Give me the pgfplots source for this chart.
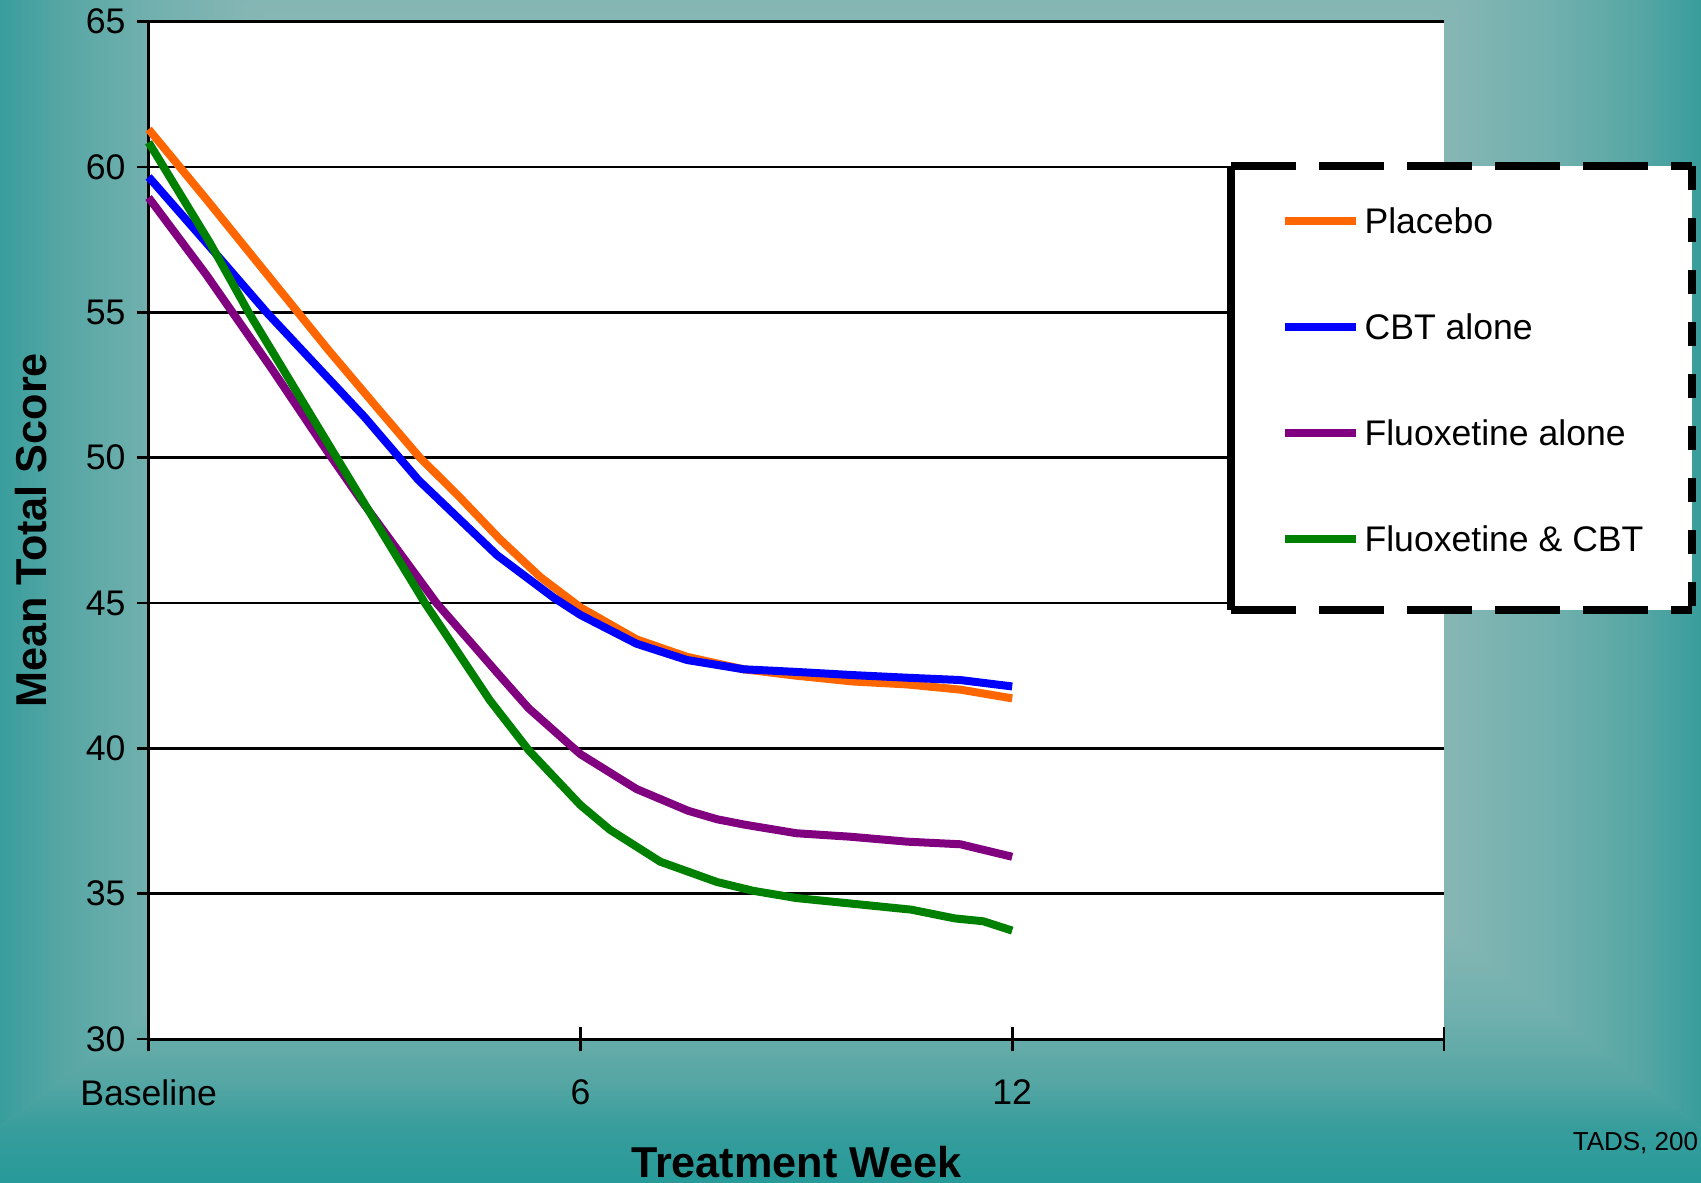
\documentclass[border=0pt]{standalone}
\usepackage{fontspec}
\setmainfont{Liberation Sans}
\usepackage{pgfplots}
\pgfplotsset{compat=1.18}
\definecolor{g0}{HTML}{A3C8C6}
\definecolor{g1}{HTML}{8CB8B6}
\definecolor{g2}{HTML}{70B0AE}
\definecolor{g3}{HTML}{55A6A4}
\definecolor{g4}{HTML}{369D9C}
\definecolor{g5}{HTML}{1E9898}
\definecolor{cPlacebo}{HTML}{FF6600}
\definecolor{cCBT}{HTML}{0000FF}
\definecolor{cFlu}{HTML}{800080}
\definecolor{cBoth}{HTML}{008000}
\pgfdeclarehorizontalshading{rg}{100bp}{color(0bp)=(g5); color(29.17bp)=(g5); color(34.58bp)=(g4); color(37.5bp)=(g3); color(41.67bp)=(g2); color(48.33bp)=(g1); color(75bp)=(g0); color(100bp)=(g0)}

\begin{document}
\begin{tikzpicture}[x=0.25pt,y=0.25pt]
\useasboundingbox (0,0) rectangle (1701,1182);
\clip (0,0) rectangle (1701,1182);
\fill[g2] (0,0) rectangle (1701,1182);
% rectangular ("from centre") background gradient
\shade[shading=rg, shading angle=0]   (850,712) -- (-206,1528) -- (-206,-104) -- cycle;
\shade[shading=rg, shading angle=180] (850,712) -- (1906,1528) -- (1906,-104) -- cycle;
\shade[shading=rg, shading angle=270] (850,712) -- (-206,1528) -- (1906,1528) -- cycle;
\shade[shading=rg, shading angle=90]  (850,712) -- (-206,-104) -- (1906,-104) -- cycle;
\begin{axis}[
  at={(37.15pt,35.75pt)}, anchor=south west,
  scale only axis, width=323.85pt, height=254.325pt,
  xmin=0, xmax=18, ymin=30, ymax=65,
  axis x line=bottom, axis y line=left,
  axis line style={-, black, line width=0.75pt},
  axis background/.style={fill=white},
  xtick={0,6,12,18}, xticklabels={Baseline,6,12,{}},
  ytick={30,35,...,65},
  ymajorgrids, grid style={black, line width=0.65pt},
  tick align=center, major tick length=6pt,
  tick style={black, line width=0.65pt},
  /pgf/number format/assume math mode=true,
  tick label style={font=\fontsize{8.9}{10}\selectfont},
  xticklabel style={yshift=-3.65pt},
  yticklabel style={xshift=0.75pt},
  xlabel={Treatment Week},
  ylabel={Mean Total Score},
  label style={font=\fontsize{10.8}{12}\selectfont\bfseries},
  xlabel style={at={(axis description cs:0.5,-0.1366)}, anchor=base},
  ylabel style={at={(axis description cs:-0.0788,0.5)}, anchor=base},
  clip=false,
  legend cell align=left,
  legend style={draw=none, fill=none, at={(rel axis cs:0.8735,0.8177)}, anchor=north west,
    inner sep=0pt, row sep=20.1pt, column sep=1.1pt,
    font=\fontsize{8.9}{10}\selectfont,
    nodes={inner sep=0pt, text height=6.4pt, text depth=0pt, anchor=base west}},
  legend image code/.code={\draw[#1] (0pt,3.2pt) -- (17.8pt,3.2pt);},
  every axis plot/.append style={line width=2pt, line join=round},
]
\fill[white] (rel axis cs:0.8356,0.8582) rectangle (rel axis cs:1.1914,0.4217);
\draw[black, line width=2.2pt] (rel axis cs:0.8356,0.8582) -- (rel axis cs:0.8356,0.4217);
\draw[black, line width=2.2pt, dash pattern=on 16.25pt off 5.75pt] (rel axis cs:0.8356,0.8582) -- (rel axis cs:1.1914,0.8582);
\draw[black, line width=2.2pt, dash pattern=on 16.25pt off 5.75pt] (rel axis cs:0.8356,0.4217) -- (rel axis cs:1.1914,0.4217);
\draw[black, line width=2.2pt, dash pattern=on 6pt off 7pt] (rel axis cs:1.1914,0.8582) -- (rel axis cs:1.1914,0.4217);
\addplot[cPlacebo] coordinates {(0,61.3) (0.8,58.9) (1.6,56.45) (2.5,53.7) (3.2,51.65) (3.77,50.0) (4.3,48.7) (4.88,47.2) (5.44,45.9) (6.0,44.85) (6.78,43.75) (7.48,43.15) (8.27,42.72) (9.0,42.5) (9.79,42.3) (10.54,42.2) (11.28,42.02) (12,41.72)};
\addlegendentry{Placebo}
\addplot[cCBT] coordinates {(0,59.66) (0.8,57.4) (1.64,55.0) (2.52,52.67) (3.0,51.4) (3.75,49.23) (4.84,46.65) (5.62,45.2) (6.0,44.59) (6.78,43.6) (7.48,43.04) (8.27,42.72) (9.0,42.63) (9.79,42.52) (10.54,42.43) (11.28,42.35) (12,42.13)};
\addlegendentry{CBT alone}
\addplot[cFlu] coordinates {(0,58.95) (0.8,56.3) (1.7,53.1) (2.46,50.3) (2.95,48.55) (4.0,45.0) (4.88,42.5) (5.28,41.38) (6.0,39.8) (6.78,38.6) (7.5,37.85) (7.9,37.56) (8.27,37.38) (9.0,37.08) (9.75,36.96) (10.54,36.79) (11.28,36.7) (12,36.27)};
\addlegendentry{Fluoxetine alone}
\addplot[cBoth] coordinates {(0,60.85) (0.85,57.4) (1.39,55.0) (2.38,50.95) (2.98,48.5) (3.84,45.0) (4.74,41.66) (5.28,39.94) (6.0,38.05) (6.41,37.2) (7.11,36.1) (7.9,35.4) (8.4,35.1) (9.0,34.85) (10.0,34.6) (10.6,34.45) (11.2,34.15) (11.6,34.05) (12,33.73)};
\addlegendentry{Fluoxetine \& CBT}
\end{axis}
\node[anchor=base west, inner sep=0pt, font=\fontsize{6.5}{7}\selectfont] at (1572,32) {TADS, 200};
\end{tikzpicture}
\end{document}
